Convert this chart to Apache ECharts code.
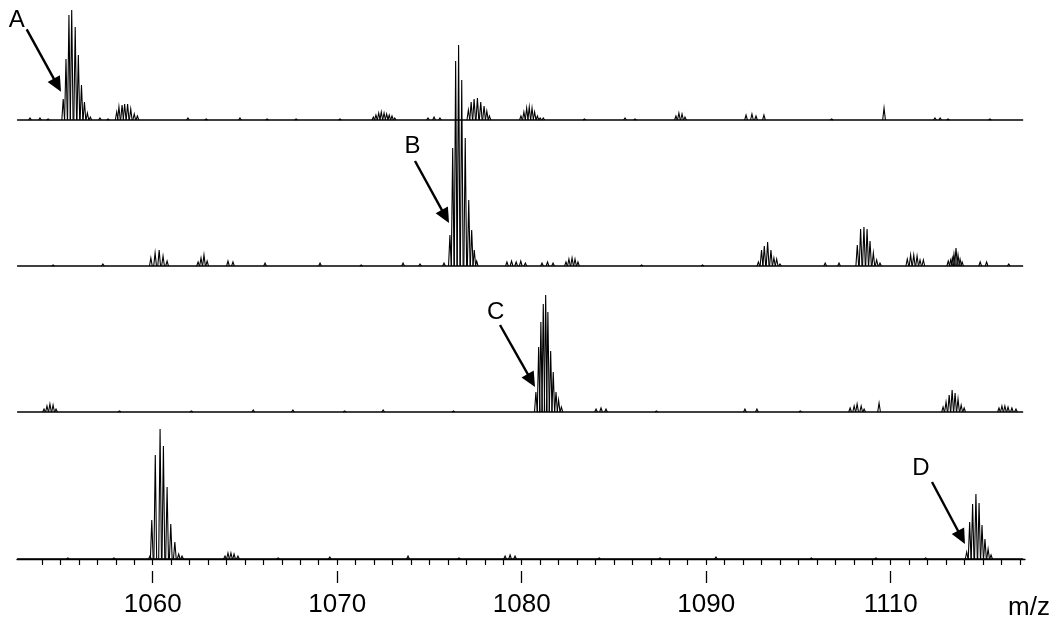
<!DOCTYPE html>
<html>
<head>
<meta charset="utf-8">
<script src="https://cdn.jsdelivr.net/npm/echarts@6/dist/echarts.min.js"></script>
<style>html,body{margin:0;padding:0;background:#fff}#c{width:1057px;height:623px}</style>
</head>
<body>
<div id="c"></div>
<script>
// ---- data (m/z, relative intensity) ----
const mzMin = 1052.645, mzMax = 1107.28;
const traceStart = 1052.65, traceEnd = 1107.18;
const minorTicks = [1054,1055,1056,1057,1058,1059,1060,1061,1062,1063,1064,1065,1066,1067,1068,1069,1070,1071,1072,1073,1074,1075,1076,1077,1078,1079,1080,1081,1082,1083,1084,1085,1086,1087,1088,1089,1090,1091,1092,1093,1094,1095,1096,1097,1098,1099,1100,1101,1102,1103,1104,1105,1106,1107];
const majorTicks = [1060,1070,1080,1090,1100];
const tickLabels = ['1060','1070','1080','1090','1110'];
const axisName = 'm/z';
const markLabels = ['A','B','C','D'];

const peaksA = [
  [1053.35,2],[1053.89,2],[1054.33,1],
  [1055.15,21],[1055.30,61],[1055.46,105],[1055.61,110],[1055.80,93],[1055.97,65],[1056.14,35],[1056.30,18],[1056.46,7],[1056.62,3],
  [1057.14,2],[1057.58,1],
  [1058.05,8],[1058.17,13],[1058.34,15],[1058.48,16],[1058.64,16],[1058.81,11],[1059.00,6],[1059.17,4],
  [1061.91,2],[1062.90,1],[1064.73,2],[1066.20,1],[1067.77,1],[1070.15,1],
  [1071.96,3],[1072.10,5],[1072.25,7],[1072.39,8],[1072.54,7],[1072.68,6],[1072.82,5],[1072.97,4],[1073.12,2],
  [1074.92,2],[1075.25,3],[1075.57,2],
  [1077.11,10],[1077.26,18],[1077.42,21],[1077.60,22],[1077.78,18],[1077.96,14],[1078.11,9],[1078.25,4],
  [1079.96,4],[1080.12,8],[1080.27,12],[1080.41,13],[1080.56,12],[1080.70,8],[1080.85,4],[1081.00,2],[1081.17,2],
  [1083.40,1],[1085.60,2],[1086.14,1],
  [1088.36,4],[1088.52,7],[1088.69,6],[1088.85,3],
  [1092.16,5],[1092.48,6],[1092.70,4],[1093.13,5],
  [1096.80,1],[1099.64,12],
  [1102.40,2],[1102.68,2],[1103.11,1],[1105.38,1]
];
const peaksB = [
  [1054.60,1],[1057.30,2],
  [1059.90,8],[1060.13,13],[1060.35,16],[1060.56,10],[1060.78,5],
  [1062.46,4],[1062.62,8],[1062.78,11],[1062.95,5],
  [1064.08,5],[1064.35,4],[1066.09,3],[1069.07,3],[1071.30,1],[1073.57,3],[1074.49,2],[1075.79,3],
  [1076.11,31],[1076.26,118],[1076.42,205],[1076.58,221],[1076.75,186],[1076.94,128],[1077.13,66],[1077.29,36],[1077.43,16],[1077.56,5],
  [1079.20,4],[1079.45,5],[1079.70,4],[1079.95,5],[1080.20,3],
  [1081.10,3],[1081.40,4],[1081.70,3],
  [1082.40,4],[1082.56,7],[1082.73,8],[1082.89,7],[1083.05,4],
  [1086.50,1],[1089.80,1],
  [1092.83,4],[1093.00,16],[1093.15,20],[1093.33,24],[1093.51,16],[1093.67,8],[1093.82,7],[1094.00,2],
  [1096.45,3],[1097.20,3],
  [1098.19,21],[1098.37,37],[1098.55,39],[1098.72,37],[1098.88,25],[1099.06,13],[1099.24,6],[1099.42,3],
  [1100.90,7],[1101.08,11],[1101.25,11],[1101.43,10],[1101.59,6],[1101.77,6],
  [1103.12,5],[1103.25,6],[1103.34,8],[1103.43,12],[1103.54,18],[1103.65,11],[1103.76,7],[1103.87,4],
  [1104.85,4],[1105.20,4],[1106.40,2]
];
const peaksC = [
  [1054.11,3],[1054.27,6],[1054.43,8],[1054.60,7],[1054.76,3],
  [1058.20,1],[1062.10,1],[1065.45,2],[1067.60,2],[1070.40,1],[1072.49,2],[1076.30,1],
  [1080.77,20],[1080.92,65],[1081.04,90],[1081.17,108],[1081.30,117],[1081.42,100],[1081.57,61],[1081.71,40],[1081.86,20],[1082.00,12],[1082.15,5],
  [1084.03,3],[1084.30,4],[1084.57,3],
  [1087.30,1],[1092.10,3],[1092.75,3],[1095.10,1],
  [1097.80,4],[1098.02,6],[1098.18,8],[1098.40,6],[1098.56,3],
  [1099.37,9],
  [1102.84,5],[1103.00,10],[1103.17,17],[1103.33,22],[1103.49,19],[1103.65,13],[1103.82,7],[1103.98,4],
  [1105.87,4],[1106.03,6],[1106.19,6],[1106.36,5],[1106.57,4],[1106.79,3]
];
const peaksD = [
  [1055.40,1],[1057.90,1],
  [1059.85,3],[1059.95,39],[1060.14,104],[1060.40,130],[1060.58,113],[1060.78,72],[1060.98,35],[1061.20,17],[1061.41,5],[1061.59,3],
  [1063.92,3],[1064.08,6],[1064.24,6],[1064.41,5],[1064.62,3],
  [1066.80,1],[1069.60,2],[1073.84,3],[1076.60,1],
  [1079.10,3],[1079.37,4],[1079.64,3],
  [1084.20,1],[1087.50,1],[1090.53,2],[1095.70,1],[1099.20,1],[1101.90,1],
  [1104.12,7],[1104.28,37],[1104.44,55],[1104.62,65],[1104.79,56],[1104.95,34],[1105.11,20],[1105.28,10],[1105.44,4]
];
const spectra = [peaksA, peaksB, peaksC, peaksD];

// ---- layout ----
const baselines = [120, 266, 412, 559];
const tops = [5, 40, 280, 420];

const grids = [], xAxes = [], yAxes = [], series = [];
spectra.forEach((pk, i) => {
  const h = baselines[i] - tops[i];
  grids.push({left: 17, right: 32, top: tops[i], height: h});
  xAxes.push({type: 'value', gridIndex: i, min: mzMin, max: mzMax, show: i === 3,
    offset: 12,
    axisLine: {show: true, lineStyle: {color: '#000', width: 1.3}},
    axisTick: {show: true, length: 6, customValues: minorTicks, lineStyle: {color: '#000', width: 1.2}},
    axisLabel: {show: false}, splitLine: {show: false}});
  yAxes.push({type: 'value', gridIndex: i, min: 0, max: h, show: false});
  series.push({type: 'line', xAxisIndex: i, yAxisIndex: i, data: [[traceStart, 0], [traceEnd, 0]],
    showSymbol: false, silent: true, lineStyle: {color: '#000', width: 1.7}, clip: false});
  series.push({type: 'custom', xAxisIndex: i, yAxisIndex: i, data: pk, clip: false, silent: true,
    renderItem: (params, api) => {
      const mz = api.value(0), v = api.value(1), hw = 0.075;
      return {type: 'polyline', shape: {points: [api.coord([mz - hw, 0]), api.coord([mz, v]), api.coord([mz + hw, 0])]},
        style: {stroke: '#000', lineWidth: 1.1, fill: null}};
    }});
});
xAxes.push({type: 'value', gridIndex: 3, min: mzMin, max: mzMax, position: 'bottom', offset: 12,
  axisLine: {show: false},
  axisTick: {show: true, length: 12, customValues: majorTicks, lineStyle: {color: '#000', width: 1.3}},
  axisLabel: {show: true, customValues: majorTicks, margin: 21, color: '#000', fontFamily: 'Liberation Sans', fontSize: 26,
    formatter: v => tickLabels[majorTicks.indexOf(Math.round(v))] || ''},
  splitLine: {show: false}});

// annotation arrows
const arrows = [
  {s: [26.7, 29.3], t: [61, 91.7], l: [16.7, 20.5]},
  {s: [415, 161], t: [449, 223], l: [412.5, 146.5]},
  {s: [500, 325], t: [535, 387], l: [495.7, 312.5]},
  {s: [932, 482], t: [965, 544], l: [921, 468]}
];
const graphics = [];
arrows.forEach((a, i) => {
  const dx = a.t[0] - a.s[0], dy = a.t[1] - a.s[1], L = Math.hypot(dx, dy);
  const ux = dx / L, uy = dy / L, hl = 15, hwid = 7;
  const bx = a.t[0] - ux * hl, by = a.t[1] - uy * hl;
  graphics.push({type: 'line', shape: {x1: a.s[0], y1: a.s[1], x2: bx + ux * 2, y2: by + uy * 2}, style: {stroke: '#000', lineWidth: 2.4}});
  graphics.push({type: 'polygon', shape: {points: [a.t, [bx - uy * hwid, by + ux * hwid], [bx + uy * hwid, by - ux * hwid]]}, style: {fill: '#000'}});
  graphics.push({type: 'text', x: a.l[0], y: a.l[1], style: {text: markLabels[i], fill: '#000', font: '24px "Liberation Sans"', align: 'center', verticalAlign: 'middle'}});
});
graphics.push({type: 'text', x: 1029, y: 608, style: {text: axisName, fill: '#000', font: '26px "Liberation Sans"', align: 'center', verticalAlign: 'middle'}});

const chart = echarts.init(document.getElementById('c'));
chart.setOption({
  animation: false,
  backgroundColor: '#fff',
  grid: grids, xAxis: xAxes, yAxis: yAxes, series: series,
  graphic: graphics
});
</script>
</body>
</html>
